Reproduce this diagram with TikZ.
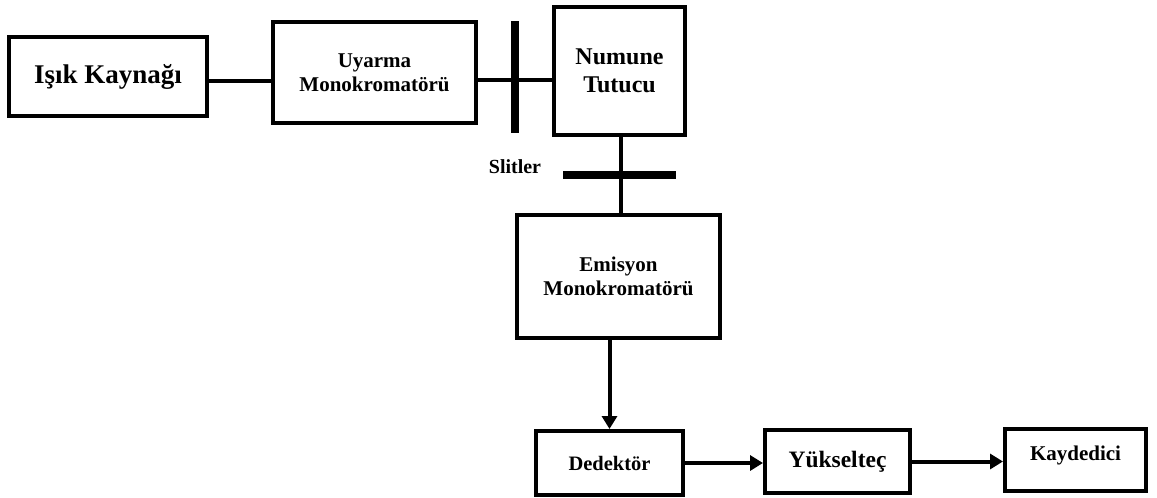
\documentclass[tikz,border=0pt]{standalone}
\usepackage{fontspec}
\setmainfont{Liberation Serif}
\usetikzlibrary{arrows.meta, positioning}
\tikzset{
  block/.style={draw, line width=4pt, align=center, inner sep=2pt,
    font=\bfseries\fontsize{21}{24}\selectfont}, % the boxes
  link/.style={line width=4pt}, % plain joins
  flow/.style={line width=4pt, -{Triangle[length=13pt,width=15pt]}}, % arrows
  slitbar/.style={line width=7.5pt}, % the slits
}

\begin{document}
\begin{tikzpicture}[x=1pt, y=-1pt]
    \useasboundingbox (0,0) rectangle (1157,498);
    \node[block, minimum width=198pt, minimum height=79pt,
      font=\bfseries\fontsize{27}{30}\selectfont]        (isik)  at (108,76.5)   {Işık Kaynağı};
    \node[block, minimum width=203pt, minimum height=101pt] (uyarma) at (374.5,72.5) {Uyarma\\Monokromatörü};
    \node[block, minimum width=131pt, minimum height=128pt,
      font=\bfseries\fontsize{24}{28}\selectfont]        (numune) at (619.5,71)   {Numune\\Tutucu};
    \node[block, minimum width=203pt, minimum height=123pt] (emisyon) at (618.5,276.5) {Emisyon\\Monokromatörü};
    \node[block, minimum width=147pt, minimum height=64pt,
      font=\bfseries\fontsize{20.5}{24}\selectfont]      (dedektor) at (609.5,463) {Dedektör};
    \node[block, minimum width=145pt, minimum height=63pt,
      font=\bfseries\fontsize{23.5}{26}\selectfont]      (yukseltec) at (837.5,461.5) {Yükselteç};
    \node[block, minimum width=141pt, minimum height=62pt, text depth=14pt] (kaydedici) at (1075.5,460) {Kaydedici};
    \node[font=\bfseries\fontsize{20}{24}\selectfont]    (slitler) at (515,167) {Slitler};

    \coordinate (s1) at (515,77);
    \coordinate (s2) at (619.5,175);

    \draw[link] ([yshift=-4.5pt]isik.east) -- ([yshift=-4.5pt]isik.east -| uyarma.west);
    \draw[link] ([yshift=-7.5pt]uyarma.east) -- ([yshift=-7.5pt]uyarma.east -| numune.west);
    \draw[link] ([xshift=1.5pt]numune.south) -- ([xshift=1.5pt]numune.south |- emisyon.north);
    \draw[slitbar] (s1) ++(0,-56) -- ++(0,112);
    \draw[slitbar] (s2) ++(-56.5,0) -- ++(113,0);

    \draw[flow] (emisyon.south -| dedektor.north) -- (dedektor.north);
    \draw[flow] (dedektor.east) -- (dedektor.east -| yukseltec.west);
    \draw[flow] (yukseltec.east) -- (yukseltec.east -| kaydedici.west);
\end{tikzpicture}
\end{document}
